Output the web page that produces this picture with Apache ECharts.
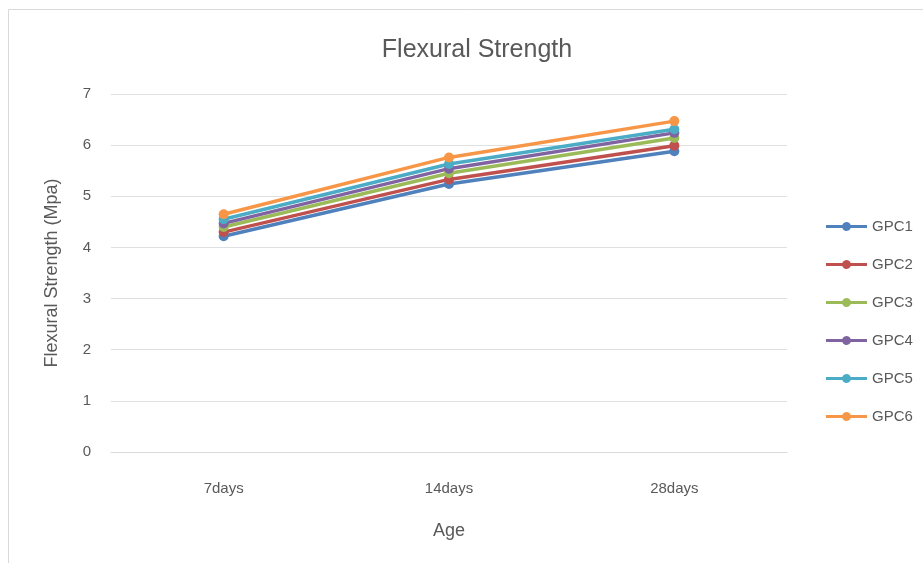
<!DOCTYPE html>
<html><head><meta charset="utf-8">
<script src="https://cdn.jsdelivr.net/npm/echarts@6/dist/echarts.min.js"></script>
<style>html,body{margin:0;padding:0;background:#fff}#c{width:923px;height:563px}</style>
</head><body><div id="c"></div>
<script>
const categories = ['7days', '14days', '28days'];
const seriesNames = ['GPC1', 'GPC2', 'GPC3', 'GPC4', 'GPC5', 'GPC6'];
const gpc1 = [4.22, 5.24, 5.88];
const gpc2 = [4.30, 5.33, 5.99];
const gpc3 = [4.40, 5.45, 6.14];
const gpc4 = [4.47, 5.54, 6.24];
const gpc5 = [4.55, 5.63, 6.31];
const gpc6 = [4.65, 5.76, 6.47];
const colors = ['#4F81BD', '#C0504D', '#9BBB59', '#8064A2', '#4BACC6', '#F79646'];
const values = [gpc1, gpc2, gpc3, gpc4, gpc5, gpc6];
const font = '"Liberation Sans", "DejaVu Sans", sans-serif';
const chart = echarts.init(document.getElementById('c'));
chart.setOption({
  animation: false,
  color: colors,
  graphic: [{type: 'rect', shape: {x: 8.5, y: 9.5, width: 930, height: 570}, style: {fill: 'none', stroke: '#d9d9d9', lineWidth: 1}}],
  title: {text: 'Flexural Strength', left: 472, top: 33, textAlign: 'center',
    textStyle: {fontFamily: font, fontSize: 25, fontWeight: 'normal', color: '#595959'}},
  legend: {orient: 'vertical', left: 821, top: 214, itemGap: 23, itemWidth: 41, itemHeight: 9,
    icon: 'path://M0,3 L16.26,3 A4.5,4.5 0 0 1 24.74,3 L41,3 L41,6 L24.74,6 A4.5,4.5 0 0 1 16.26,6 L0,6 Z',
    textStyle: {fontFamily: font, fontSize: 15, color: '#595959'},
    data: seriesNames},
  grid: {left: 111, right: 136, top: 94, bottom: 111},
  xAxis: {type: 'category', data: categories, boundaryGap: true,
    name: 'Age', nameLocation: 'middle', nameGap: 70,
    nameTextStyle: {fontFamily: font, fontSize: 18, color: '#595959'},
    axisLine: {lineStyle: {color: '#d9d9d9'}}, axisTick: {show: false},
    axisLabel: {fontFamily: font, fontSize: 15, color: '#595959', margin: 29}},
  yAxis: {type: 'value', min: 0, max: 7, interval: 1,
    name: 'Flexural Strength (Mpa)', nameLocation: 'middle', nameGap: 50,
    nameTextStyle: {fontFamily: font, fontSize: 18, color: '#595959'},
    axisLine: {show: false}, axisTick: {show: false},
    splitLine: {lineStyle: {color: '#e0e0e0'}},
    axisLabel: {fontFamily: font, fontSize: 15, color: '#595959', margin: 20}},
  series: seriesNames.map((n, i) => ({
    name: n, type: 'line', data: values[i], symbol: 'circle', symbolSize: 10,
    lineStyle: {width: 3.5, color: colors[i]}, itemStyle: {color: colors[i]}
  }))
});
</script></body></html>
